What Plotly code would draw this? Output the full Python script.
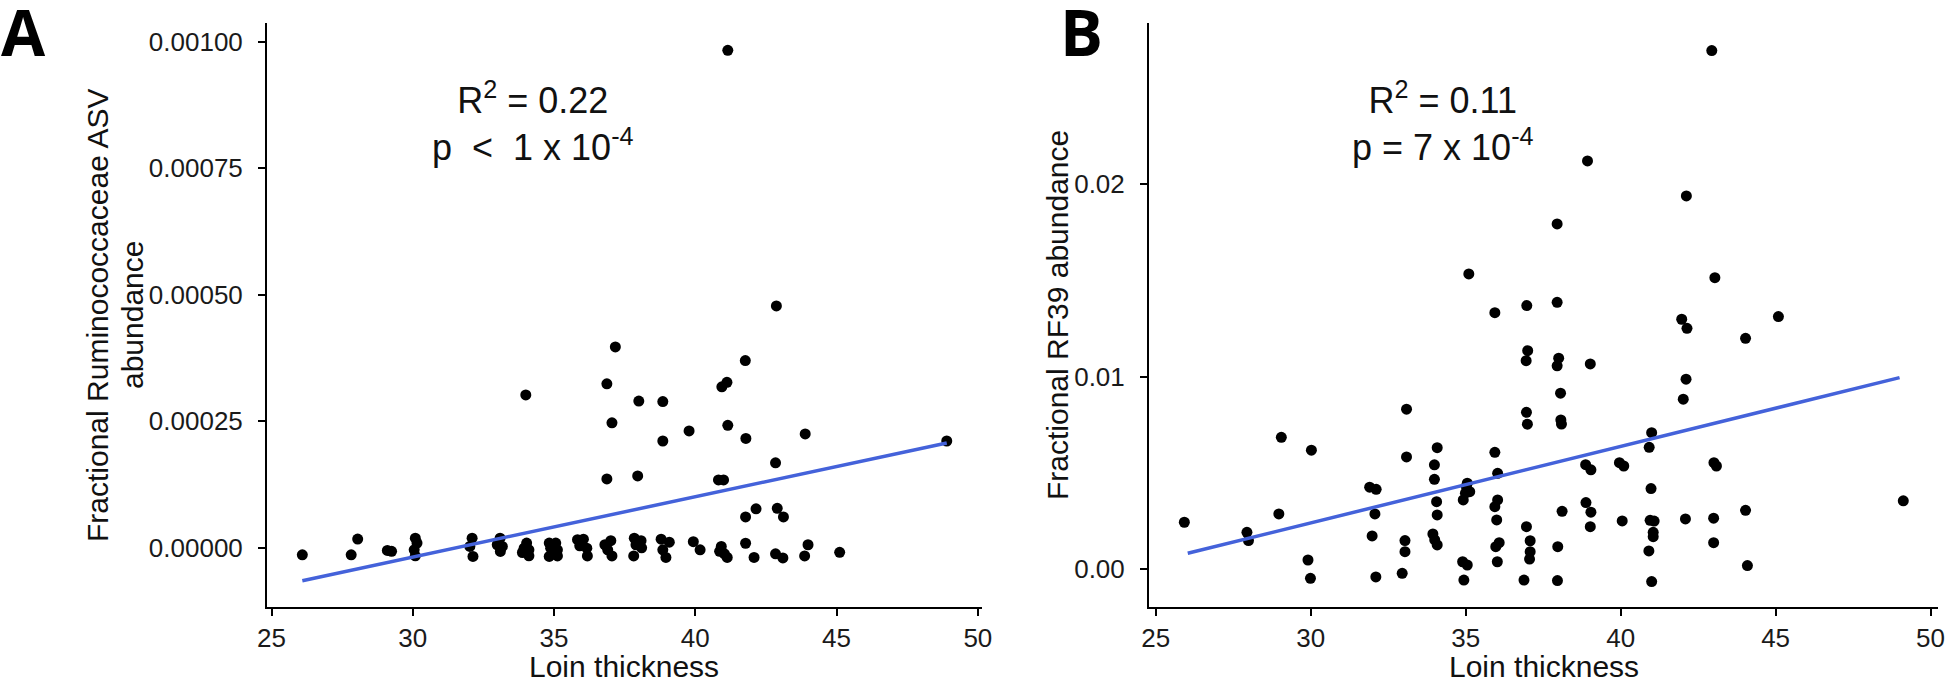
import plotly.graph_objects as go

# ---------------- Panel A data: Ruminococcaceae ASV ----------------
a_x = [41.15, 42.87, 37.17, 41.77, 36.87, 41.12, 40.94, 34.0, 38.0, 38.85,
       37.05, 41.15, 39.78, 41.79, 43.89, 38.85, 48.9, 42.84, 36.87, 37.96,
       40.82, 41.0, 42.15, 41.78, 42.9, 43.12,
       26.09, 27.82, 28.05, 29.1, 29.25,
       30.09, 30.15, 30.05, 30.09,
       32.1, 32.02, 32.13,
       33.09, 32.99, 33.1, 33.17,
       34.03, 33.94, 34.11, 33.88, 34.11,
       34.83, 35.06, 34.88, 35.12, 34.83, 35.12,
       35.83, 36.04, 35.91, 36.16, 36.18,
       37.01, 36.8, 36.9, 37.05,
       37.84, 38.08, 37.9, 38.1, 37.82,
       38.79, 39.08, 38.85, 38.96,
       39.93, 40.17,
       40.92, 40.86, 41.13, 41.03,
       41.78, 42.08,
       42.84, 43.1,
       43.99, 43.87,
       45.11]
a_y = [0.000983, 0.000478, 0.000397, 0.000370, 0.000324, 0.000327, 0.000318, 0.000302, 0.000290, 0.000289,
       0.000247, 0.000242, 0.000231, 0.000216, 0.000225, 0.000211, 0.000211, 0.000168, 0.000136, 0.000142,
       0.000134, 0.000134, 0.000077, 0.000061, 0.000078, 0.000061,
       -13.8e-6, -13.8e-6, 17.2e-6, -5.3e-6, -7e-6,
       19e-6, 9.3e-6, -4e-6, -15.8e-6,
       19e-6, 2.6e-6, -17e-6,
       19e-6, 6e-6, -7.3e-6, 2.6e-6,
       9.3e-6, -0.7e-6, -4e-6, -9.3e-6, -15.8e-6,
       9.3e-6, 9.3e-6, -0.7e-6, -4e-6, -17e-6, -16e-6,
       16e-6, 17e-6, 4e-6, -0.7e-6, -16e-6,
       14e-6, 6e-6, -4e-6, -16e-6,
       19e-6, 14e-6, 6e-6, 0.0, -16e-6,
       17e-6, 11e-6, -4e-6, -19e-6,
       12e-6, -4e-6,
       2.6e-6, -7e-6, -19e-6, -12e-6,
       9e-6, -19e-6,
       -12e-6, -20e-6,
       6e-6, -16e-6,
       -9e-6]
# linear fit (geom_smooth lm)
a_fit_x = [26.09, 48.9]
a_fit_y = [-0.000065, 0.000207]

# ---------------- Panel B data: RF39 ----------------
b_x = [25.92,
       27.94, 27.99,
       29.05, 28.97,
       30.02, 29.91, 29.99,
       31.9, 32.11, 32.07, 31.98, 32.1,
       33.09, 33.09, 33.04, 33.04, 32.95,
       34.08, 33.99, 33.99, 34.06, 34.08, 33.94, 34.0, 34.08,
       35.1, 35.05, 35.02, 35.13, 34.99, 34.92, 34.9, 35.05, 34.94,
       35.94, 35.94, 36.03, 36.03, 35.94, 36.0, 36.08, 35.97, 36.02,
       36.97, 37.0, 36.95, 36.96, 36.99, 36.96, 37.08, 37.08, 37.06, 36.88,
       37.95, 37.95, 38.0, 37.95, 38.06, 38.07, 38.09, 38.11, 37.97, 37.96,
       38.93, 39.02, 38.87, 39.04, 38.88, 39.04, 39.02,
       39.96, 40.1, 40.05,
       41.0, 40.92, 40.98, 40.95, 41.08, 41.05, 41.05, 40.91, 41.0,
       42.12, 42.11, 42.02, 42.09, 41.97, 42.14,
       42.94, 43.04, 43.01, 43.09, 43.0, 43.0,
       44.03, 44.03, 44.09,
       45.09,
       49.12]
b_y = [0.00244,
       0.00192, 0.00149,
       0.00685, 0.00287,
       0.00618, 0.00048, -0.00047,
       0.00426, 0.00415, 0.00287, 0.00173, -0.0004,
       0.00831, 0.00583, 0.00149, 0.00091, -0.00021,
       0.00631, 0.00542, 0.00467, 0.00351, 0.00282, 0.00183, 0.00152, 0.00126,
       0.01533, 0.00447, 0.00429, 0.00403, 0.00395, 0.0036, 0.00039, 0.00022, -0.00056,
       0.01332, 0.00607, 0.00498, 0.0036, 0.00325, 0.00256, 0.00138, 0.00117, 0.00039,
       0.01369, 0.01135, 0.01083, 0.00815, 0.00753, 0.00221, 0.00148, 0.00091, 0.00053, -0.00056,
       0.01793, 0.01386, 0.01096, 0.01056, 0.00914, 0.00775, 0.00754, 0.00301, 0.00117, -0.00059,
       0.0212, 0.01066, 0.00543, 0.00516, 0.00346, 0.00296, 0.00221,
       0.00553, 0.00536, 0.00251,
       0.00709, 0.00633, 0.00419, 0.00254, 0.0025, 0.00192, 0.00169, 0.00095, -0.00064,
       0.01938, 0.00987, 0.00883, 0.00261, 0.01298, 0.01251,
       0.02693, 0.01514, 0.00553, 0.00536, 0.00265, 0.00138,
       0.01199, 0.00306, 0.00019,
       0.01312,
       0.00355]
b_fit_x = [26.03, 49.0]
b_fit_y = [0.00083, 0.00995]

x_ticks = [25, 30, 35, 40, 45, 50]
a_yticks = [0.0, 0.00025, 0.0005, 0.00075, 0.001]
a_yticklabels = ["0.00000", "0.00025", "0.00050", "0.00075", "0.00100"]
b_yticks = [0.0, 0.01, 0.02]
b_yticklabels = ["0.00", "0.01", "0.02"]

a_stats = "R<sup>2</sup> = 0.22<br>p&nbsp; <&nbsp; 1 x 10<sup>-4</sup>"
b_stats = "R<sup>2</sup> = 0.11<br>p = 7 x 10<sup>-4</sup>"
a_ytitle_lines = ["Fractional Ruminococcaceae ASV", "abundance"]
b_ytitle = "Fractional RF39 abundance"
x_title = "Loin thickness"

W, H = 1946, 681
FONT = "Liberation Sans, Arial, Helvetica, sans-serif"
LINE_BLUE = "#4462DA"

fig = go.Figure()
for xs, ys, fx, fy, xa, ya in [(a_x, a_y, a_fit_x, a_fit_y, "x", "y"),
                               (b_x, b_y, b_fit_x, b_fit_y, "x2", "y2")]:
    fig.add_trace(go.Scatter(x=xs, y=ys, mode="markers", xaxis=xa, yaxis=ya,
                             marker=dict(color="black", size=11), showlegend=False,
                             cliponaxis=False))
    fig.add_trace(go.Scatter(x=fx, y=fy, mode="lines", xaxis=xa, yaxis=ya,
                             line=dict(color=LINE_BLUE, width=3.5), showlegend=False))


def px_x(p):
    return p / W


def px_y(p):
    return 1 - p / H


axis_common = dict(showline=True, linecolor="black", linewidth=2, ticks="outside",
                   ticklen=7, tickwidth=2, tickcolor="black", showgrid=False,
                   zeroline=False, automargin=False,
                   tickfont=dict(family=FONT, size=26, color="#1a1a1a"))

fig.update_layout(
    width=W, height=H,
    margin=dict(l=0, r=0, t=0, b=0, autoexpand=False),
    paper_bgcolor="white", plot_bgcolor="white",
    xaxis=dict(domain=[px_x(267), px_x(981.5)], range=[24.84, 50.13], anchor="y",
               tickvals=x_ticks, **axis_common),
    yaxis=dict(domain=[px_y(607), px_y(23)], range=[-0.000117, 0.001037], anchor="x",
               tickvals=a_yticks, ticktext=a_yticklabels, ticklabelstandoff=10, **axis_common),
    xaxis2=dict(domain=[px_x(1149), px_x(1938)], range=[24.78, 50.24], anchor="y2",
                tickvals=x_ticks, **axis_common),
    yaxis2=dict(domain=[px_y(607), px_y(23)], range=[-0.00196, 0.02836], anchor="x2",
                tickvals=b_yticks, ticktext=b_yticklabels, ticklabelstandoff=10, **axis_common),
)

ann = []
# stats
ann.append(dict(text=a_stats, x=px_x(533), y=px_y(73), xref="paper", yref="paper",
                xanchor="center", yanchor="top", showarrow=False,
                font=dict(family=FONT, size=36, color="#111")))
ann.append(dict(text=b_stats, x=px_x(1443), y=px_y(73), xref="paper", yref="paper",
                xanchor="center", yanchor="top", showarrow=False,
                font=dict(family=FONT, size=36, color="#111")))
# x titles
for cx in (624, 1543.5):
    ann.append(dict(text=x_title, x=px_x(cx), y=px_y(666), xref="paper", yref="paper",
                    xanchor="center", yanchor="middle", showarrow=False,
                    font=dict(family=FONT, size=30, color="#111")))
# y titles
for txt, cx in zip(a_ytitle_lines, (97, 132)):
    ann.append(dict(text=txt, x=px_x(cx), y=px_y(315), xref="paper", yref="paper",
                    xanchor="center", yanchor="middle", textangle=-90, showarrow=False,
                    font=dict(family=FONT, size=30, color="#111")))
ann.append(dict(text=b_ytitle, x=px_x(1057), y=px_y(315), xref="paper", yref="paper",
                xanchor="center", yanchor="middle", textangle=-90, showarrow=False,
                font=dict(family=FONT, size=30, color="#111")))
# panel letters
ann.append(dict(text="<b>A</b>", x=px_x(-1), y=px_y(31), xref="paper", yref="paper",
                xanchor="left", yanchor="middle", showarrow=False,
                font=dict(family="Open Sans, Lato, sans-serif", size=64, color="black", weight=800)))
ann.append(dict(text="<b>B</b>", x=px_x(1058), y=px_y(31), xref="paper", yref="paper",
                xanchor="left", yanchor="middle", showarrow=False,
                font=dict(family="Open Sans, Lato, sans-serif", size=64, color="black", weight=800)))
fig.update_layout(annotations=ann)

fig.write_html("out.html", config={"displayModeBar": False},
               post_script="document.body.style.margin='0';document.body.style.padding='0';"
                           "document.body.style.overflow='hidden';")
